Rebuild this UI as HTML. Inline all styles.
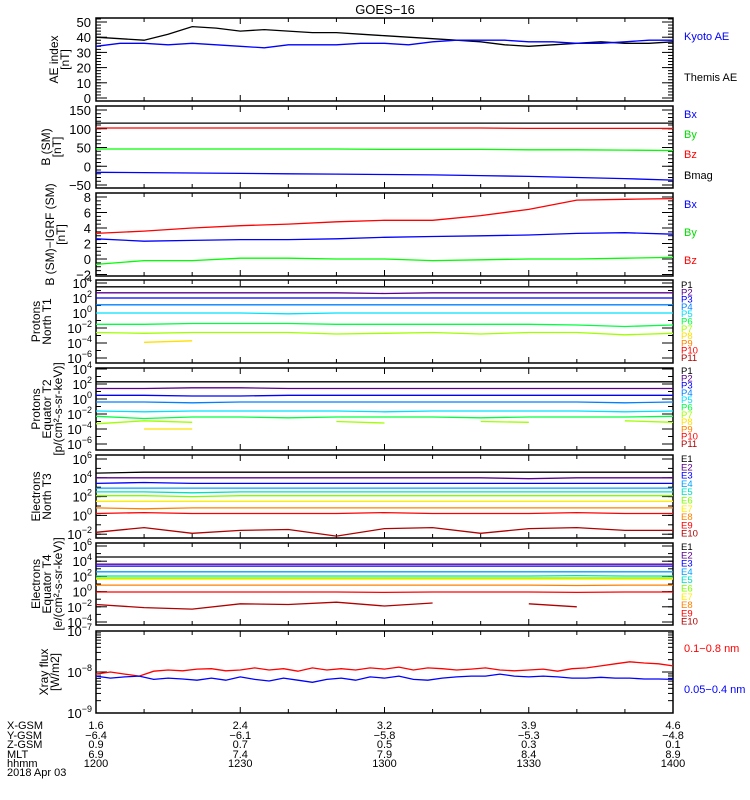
<!DOCTYPE html>
<html><head><meta charset="utf-8">
<style>
html,body{margin:0;padding:0;background:#fff;}
svg{display:block;font-family:"Liberation Sans",sans-serif;}
</style></head>
<body>
<svg id="chart" width="750" height="800" viewBox="0 0 750 800">
<text x="385" y="14" font-size="13" text-anchor="middle">GOES−16</text>
</svg>
<script>
// ---- data ----
const aeTimes = [0,5,10,15,20,25,30,35,40,45,50,55,60,65,70,75,80,85,90,95,100,105,110,115,120];
const themisAE = [40,39,38,42,47,46,44,45,44,43,43,42,41,40,39,38,37,35,34,35,36,37,36,36,37];
const kyotoAE  = [34,36,36,35,36,35,34,33,35,35,35,36,36,35,37,38,38,38,37,37,36,36,37,38,38];
const bTimes = [0,10,20,30,40,50,60,70,80,90,100,110,120];
const bMag = [115,115,115,115,115,115,115,115,115,115,115,115,115];
const bZ = [102,102,102,102,102,102,102,102,102,101,101,101,101];
const bY = [46,46,46,46,46,46,45,45,45,44,44,43,42];
const bX = [-16,-17,-18,-19,-20,-21,-22,-23,-25,-27,-30,-33,-37];
const dZ = [3.3,3.6,4.0,4.3,4.5,4.8,5.0,5.0,5.6,6.4,7.6,7.7,7.8];
const dX = [2.6,2.3,2.4,2.5,2.5,2.6,2.8,2.9,3.0,3.1,3.3,3.4,3.2];
const dY = [-0.7,-0.2,-0.2,0.1,0.1,0.0,0.0,-0.2,-0.1,0.0,0.0,0.1,0.2];
// protons north T1 (log10)
const pN1 = [3.5,3.5,3.5,3.5,3.5,3.5,3.5,3.5,3.5,3.5,3.5,3.5,3.5];
const pN2 = [2.7,2.7,2.7,2.7,2.7,2.7,2.6,2.7,2.7,2.7,2.7,2.7,2.7];
const pN3 = [2.0,2.0,2.0,2.0,2.0,2.0,2.0,2.0,2.0,2.0,2.0,2.0,2.0];
const pN4 = [1.1,1.1,1.1,1.1,1.1,1.1,1.1,1.1,1.1,1.1,1.1,1.1,1.1];
const pN5 = [0.0,0.0,0.0,0.0,-0.1,0.0,0.0,0.0,0.0,0.0,0.0,0.0,0.0];
const pN6 = [-1.5,-1.5,-1.4,-1.4,-1.4,-1.5,-1.5,-1.5,-1.5,-1.5,-1.6,-1.8,-1.6];
const pN7 = [-2.6,-2.7,-2.6,-2.6,-2.6,-2.8,-2.7,-2.6,-2.8,-2.6,-2.6,-2.9,-2.7];
const pN8 = [null,-3.9,-3.7,null,null,null,null,null,null,null,null,null,null];
// protons equator T2
const pE1 = [2.3,2.3,2.3,2.3,2.3,2.3,2.3,2.3,2.3,2.3,2.3,2.3,2.3];
const pE2 = [1.4,1.4,1.5,1.5,1.4,1.4,1.4,1.4,1.4,1.4,1.4,1.4,1.4];
const pE3 = [0.5,0.5,0.4,0.4,0.5,0.5,0.5,0.5,0.5,0.5,0.5,0.5,0.5];
const pE4 = [-0.4,-0.4,-0.5,-0.4,-0.4,-0.4,-0.4,-0.4,-0.4,-0.4,-0.4,-0.5,-0.4];
const pE5 = [-1.6,-1.7,-1.6,-1.6,-1.6,-1.6,-1.7,-1.6,-1.6,-1.6,-1.6,-1.7,-1.6];
const pE6 = [-2.3,-2.6,-2.4,-2.4,-2.5,-2.4,-2.4,-2.4,-2.5,-2.4,-2.4,-2.4,-2.3];
const pE7 = [-3.3,-2.9,-3.1,null,null,-3.0,-3.2,null,-3.0,-3.1,null,-2.9,-3.1];
const pE8 = [null,-4.0,-4.0,null,null,null,null,null,null,null,null,null,null];
// electrons north T3
const eN1 = [4.5,4.6,4.6,4.6,4.6,4.6,4.6,4.6,4.6,4.6,4.6,4.6,4.6];
const eN2 = [4.0,4.0,4.0,4.0,4.0,4.0,4.0,4.0,4.0,3.9,4.0,4.0,4.0];
const eN3 = [3.4,3.5,3.4,3.4,3.4,3.4,3.4,3.4,3.4,3.4,3.4,3.4,3.4];
const eN4 = [2.9,2.9,2.9,2.9,2.9,2.9,2.9,2.9,2.9,2.9,2.9,2.9,2.9];
const eN5 = [2.5,2.5,2.4,2.5,2.5,2.5,2.5,2.5,2.5,2.5,2.5,2.5,2.5];
const eN6 = [2.1,2.1,2.0,2.1,2.1,2.1,2.1,2.1,2.1,2.1,2.1,2.1,2.1];
const eN7 = [1.5,1.5,1.5,1.5,1.5,1.5,1.5,1.5,1.5,1.5,1.5,1.5,1.5];
const eN8 = [0.8,0.7,0.8,0.8,0.8,0.8,0.8,0.8,0.8,0.8,0.8,0.8,0.8];
const eN9 = [0.2,0.3,0.2,0.2,0.2,0.2,0.3,0.2,0.2,0.2,0.3,0.2,0.2];
const eN10 = [-1.8,-1.3,-1.9,-1.6,-1.5,-2.2,-1.4,-1.3,-1.9,-1.4,-1.3,-1.6,-1.6];
// electrons equator T4
const eE1 = [4.55,4.55,4.55,4.55,4.55,4.55,4.55,4.55,4.55,4.55,4.55,4.55,4.55];
const eE2 = [3.6,3.6,3.6,3.6,3.6,3.6,3.6,3.6,3.6,3.6,3.6,3.6,3.6];
const eE3 = [3.35,3.35,3.35,3.35,3.35,3.35,3.35,3.35,3.35,3.35,3.35,3.35,3.35];
const eE4 = [2.6,2.6,2.6,2.6,2.6,2.6,2.6,2.6,2.6,2.6,2.6,2.6,2.6];
const eE5 = [2.05,2.05,2.05,2.05,2.05,2.05,2.05,2.05,2.05,2.05,2.1,2.05,2.05];
const eE6 = [1.8,1.8,1.8,1.8,1.8,1.8,1.8,1.8,1.8,1.8,1.8,1.8,1.8];
const eE7 = [1.65,1.65,1.65,1.65,1.65,1.65,1.65,1.65,1.65,1.65,1.65,1.65,1.65];
const eE8 = [0.85,0.85,0.85,0.85,0.85,0.85,0.85,0.85,0.85,0.85,0.8,0.85,0.85];
const eE9 = [-0.05,-0.05,-0.05,-0.05,-0.05,-0.05,-0.1,-0.05,-0.05,-0.05,-0.1,-0.05,-0.05];
const eE10 = [-1.7,-2.1,-2.3,-1.6,-1.7,-1.4,-1.9,-1.5,null,-1.6,-2.0,null,-1.8];
// xray (log10 W/m2), every 3 min
const xTimes = [0,3,6,9,12,15,18,21,24,27,30,33,36,39,42,45,48,51,54,57,60,63,66,69,72,75,78,81,84,87,90,93,96,99,102,105,108,111,114,117,120];
const xrayLong = [-8.05,-8.0,-8.05,-8.1,-7.98,-7.95,-7.97,-7.93,-7.92,-7.97,-7.95,-7.9,-7.95,-7.92,-7.98,-7.9,-7.95,-7.92,-7.95,-7.9,-7.93,-7.88,-7.95,-7.9,-7.92,-7.95,-7.93,-7.9,-7.95,-7.97,-7.95,-7.93,-7.98,-7.92,-7.9,-7.85,-7.8,-7.75,-7.78,-7.8,-7.85];
const xrayShort = [-8.1,-8.15,-8.12,-8.1,-8.18,-8.15,-8.17,-8.2,-8.15,-8.2,-8.12,-8.18,-8.22,-8.15,-8.2,-8.25,-8.18,-8.15,-8.2,-8.12,-8.15,-8.1,-8.18,-8.2,-8.15,-8.12,-8.1,-8.1,-8.05,-8.1,-8.12,-8.1,-8.12,-8.15,-8.15,-8.13,-8.15,-8.15,-8.17,-8.17,-8.18];
const xTickLabels = ["1200","1230","1300","1330","1400"];
const xGsm = ["1.6","2.4","3.2","3.9","4.6"];
const yGsm = ["−6.4","−6.1","−5.8","−5.3","−4.8"];
const zGsm = ["0.9","0.7","0.5","0.3","0.1"];
const mlt = ["6.9","7.4","7.9","8.4","8.9"];

// ---- layout ----
const svg = document.getElementById('chart');
const NS = 'http://www.w3.org/2000/svg';
const X0 = 96, X1 = 673, TMAX = 120;
const xs = t => X0 + (X1 - X0) * t / TMAX;
function mk(tag, attrs, parent) {
  const e = document.createElementNS(NS, tag);
  for (const k in attrs) e.setAttribute(k, attrs[k]);
  (parent || svg).appendChild(e);
  return e;
}
function txt(x, y, s, size, color, anchor, parent) {
  const t = mk('text', {x: x, y: y, 'font-size': size, fill: color || '#000', 'text-anchor': anchor || 'start'}, parent);
  t.textContent = s;
  return t;
}
function series(g, times, vals, yf, color, name) {
  let d = '', pen = false;
  for (let i = 0; i < vals.length; i++) {
    if (vals[i] === null) { pen = false; continue; }
    const x = xs(times[i]), y = yf(vals[i]);
    d += (pen ? 'L' : 'M') + x.toFixed(1) + ' ' + y.toFixed(1);
    pen = true;
  }
  const p = mk('path', {d: d, fill: 'none', stroke: color, 'stroke-width': 1.3}, g);
  
  
  return p;
}
function panel(name, top, bot, yf, majors, labelFn, minors, ytitle, titleX) {
  const g = mk('g', {});
  
  
  const fr = mk('rect', {x: X0, y: top, width: X1 - X0, height: bot - top, fill: 'none', stroke: '#000', 'stroke-width': 1.5}, g);
  
  
  for (let t = 10; t < TMAX; t += 10) {
    const L = (t % 30 === 0) ? 6 : 4;
    mk('line', {x1: xs(t), x2: xs(t), y1: bot, y2: bot - L, stroke: '#000'}, g);
    mk('line', {x1: xs(t), x2: xs(t), y1: top, y2: top + L, stroke: '#000'}, g);
  }
  minors.forEach(v => {
    const y = yf(v);
    if (y < top || y > bot) return;
    mk('line', {x1: X0, x2: X0 + 5, y1: y, y2: y, stroke: '#000'}, g);
    mk('line', {x1: X1, x2: X1 - 5, y1: y, y2: y, stroke: '#000'}, g);
  });
  majors.forEach(v => {
    const y = yf(v);
    mk('line', {x1: X0, x2: X0 + 11, y1: y, y2: y, stroke: '#000'}, g);
    mk('line', {x1: X1, x2: X1 - 11, y1: y, y2: y, stroke: '#000'}, g);
    labelFn(v, y, g);
  });
  const cy = (top + bot) / 2;
  ytitle.forEach((s, i) => {
    const x = titleX + i * 11;
    const t = txt(x, cy, s, 12, '#000', 'middle', g);
    t.setAttribute('transform', 'rotate(-90 ' + x + ' ' + cy + ')');
    
    
  });
  return g;
}
const linLabel = (v, y, g) => txt(X0 - 5, y + 5, (v < 0 ? '−' + (-v) : '' + v), 13, '#000', 'end', g);
function logLabel(v, y, g) {
  const t = mk('text', {x: X0 - 4, y: y + 5, 'font-size': 13, 'text-anchor': 'end'}, g);
  const a = document.createElementNS(NS, 'tspan'); a.textContent = '10'; t.appendChild(a);
  const b = document.createElementNS(NS, 'tspan');
  b.setAttribute('dy', -6); b.setAttribute('font-size', 9);
  b.textContent = (v < 0 ? '−' + (-v) : '' + v); t.appendChild(b);
  
  
}
function logMinors(lo, hi) { const a = []; for (let d = lo; d <= hi; d++) a.push(d); return a; }
function rlabel(g, x, y, s, c, name, size) {
  const t = txt(x, y, s, size || 11, c, 'start', g);
  
  
}

// Panel 1: AE
const yAE = v => 98 - v * 1.52;
const aeMin = []; for (let v = 0; v <= 52; v += 2) aeMin.push(v);
let g = panel('ae-panel', 18, 101, yAE, [0,10,20,30,40,50], linLabel, aeMin, ['AE index', '[nT]'], 58);
series(g, aeTimes, themisAE, yAE, '#000', 'themis-ae-line');
series(g, aeTimes, kyotoAE, yAE, '#0000ff', 'kyoto-ae-line');
rlabel(g, 684, 40, 'Kyoto AE', '#0000ff', 'legend-kyoto-ae');
rlabel(g, 684, 81, 'Themis AE', '#000', 'legend-themis-ae');

// Panel 2: B
const yB = v => 110 + (150 - v) * 0.375;
const bMin = []; for (let v = -50; v <= 150; v += 10) bMin.push(v);
g = panel('b-sm-panel', 106, 188, yB, [-50,0,50,100,150], linLabel, bMin, ['B (SM)', '[nT]'], 50);
series(g, bTimes, bMag, yB, '#000', 'bmag-line');
series(g, bTimes, bZ, yB, '#ff0000', 'bz-line');
series(g, bTimes, bY, yB, '#00ff00', 'by-line');
series(g, bTimes, bX, yB, '#0000ff', 'bx-line');
rlabel(g, 684, 118, 'Bx', '#0000ff', 'legend-bx');
rlabel(g, 684, 138, 'By', '#00dd00', 'legend-by');
rlabel(g, 684, 158, 'Bz', '#ff0000', 'legend-bz');
rlabel(g, 684, 179, 'Bmag', '#000', 'legend-bmag');

// Panel 3: B - IGRF
const yD = v => 259 - v * 7.75;
const dMin = []; for (let v = -2; v <= 8; v += 0.5) dMin.push(v);
g = panel('b-igrf-panel', 193, 276, yD, [-2,0,2,4,6,8], linLabel, dMin, ['B (SM)−IGRF (SM)', '[nT]'], 54);
series(g, bTimes, dZ, yD, '#ff0000', 'dbz-line');
series(g, bTimes, dX, yD, '#0000ff', 'dbx-line');
series(g, bTimes, dY, yD, '#00ff00', 'dby-line');
rlabel(g, 684, 208, 'Bx', '#0000ff', 'legend-dbx');
rlabel(g, 684, 236, 'By', '#00dd00', 'legend-dby');
rlabel(g, 684, 264, 'Bz', '#ff0000', 'legend-dbz');

const pColors = ['#000000','#5a0090','#0000ff','#0080ff','#00e0ff','#00ff40','#a0ff00','#ffe000','#ff8000','#ff0000','#b00000'];
const eColors = ['#000000','#5a0090','#0000ff','#00a0ff','#00e0c0','#80ff00','#ffee00','#ff8000','#ff0000','#b00000'];

// Panel 4: Protons North T1
const yPN = v => 283 + (4 - v) * 7.5;
g = panel('protons-north-panel', 280, 363, yPN, [4,2,0,-2,-4,-6], logLabel, logMinors(-6,4), ['Protons', 'North T1'], 40);
[pN1,pN2,pN3,pN4,pN5,pN6,pN7,pN8].forEach((a, i) => series(g, bTimes, a, yPN, pColors[i], 'proton-north-p' + (i + 1)));
for (let i = 0; i < 11; i++) rlabel(g, 681, 288 + i * 7.3, 'P' + (i + 1), pColors[i], 'legend-proton-north-p' + (i + 1), 9.5);

// Panel 5: Protons Equator T2
const yPE = v => 369 + (4 - v) * 7.5;
g = panel('protons-equator-panel', 368, 450, yPE, [4,2,0,-2,-4,-6], logLabel, logMinors(-6,4), ['Protons', 'Equator T2', '[p/(cm²-s-sr-keV)]'], 40);
[pE1,pE2,pE3,pE4,pE5,pE6,pE7,pE8].forEach((a, i) => series(g, bTimes, a, yPE, pColors[i], 'proton-equator-p' + (i + 1)));
for (let i = 0; i < 11; i++) rlabel(g, 681, 374 + i * 7.3, 'P' + (i + 1), pColors[i], 'legend-proton-equator-p' + (i + 1), 9.5);

// Panel 6: Electrons North T3
const yEN = v => 459 + (6 - v) * 9.4;
g = panel('electrons-north-panel', 455, 538, yEN, [6,4,2,0,-2], logLabel, logMinors(-2,6), ['Electrons', 'North T3'], 40);
[eN1,eN2,eN3,eN4,eN5,eN6,eN7,eN8,eN9,eN10].forEach((a, i) => series(g, bTimes, a, yEN, eColors[i], 'electron-north-e' + (i + 1)));
for (let i = 0; i < 10; i++) rlabel(g, 681, 462 + i * 8.3, 'E' + (i + 1), eColors[i], 'legend-electron-north-e' + (i + 1), 9.5);

// Panel 7: Electrons Equator T4
const yEE = v => 546 + (6 - v) * 7.6;
g = panel('electrons-equator-panel', 543, 625, yEE, [6,4,2,0,-2,-4], logLabel, logMinors(-4,6), ['Electrons', 'Equator T4', '[e/(cm²-s-sr-keV)]'], 40);
[eE1,eE2,eE3,eE4,eE5,eE6,eE7,eE8,eE9,eE10].forEach((a, i) => series(g, bTimes, a, yEE, eColors[i], 'electron-equator-e' + (i + 1)));
for (let i = 0; i < 10; i++) rlabel(g, 681, 550 + i * 8.3, 'E' + (i + 1), eColors[i], 'legend-electron-equator-e' + (i + 1), 9.5);

// Panel 8: Xray
const yX = v => 631 + (-7 - v) * 41;
const xMin = []; for (let d = -9; d < -7; d++) for (let m = 2; m <= 9; m++) xMin.push(d + Math.log10(m));
g = panel('xray-panel', 631, 713, yX, [-7,-8,-9], logLabel, xMin, ['Xray  flux', '[W/m2]'], 48);
series(g, xTimes, xrayLong, yX, '#ff0000', 'xray-long-line');
series(g, xTimes, xrayShort, yX, '#0000ff', 'xray-short-line');
rlabel(g, 684, 652, '0.1−0.8 nm', '#ff0000', 'legend-xray-long');
rlabel(g, 684, 693, '0.05−0.4 nm', '#0000ff', 'legend-xray-short');

// bottom annotation rows
const rows = [['X-GSM', xGsm, 729], ['Y-GSM', yGsm, 739], ['Z-GSM', zGsm, 748], ['MLT', mlt, 758], ['hhmm', xTickLabels, 767]];
const ga = mk('g', {});


rows.forEach(r => {
  const lab = txt(7, r[2], r[0], 11, '#000', 'start', ga);
  
  
  r[1].forEach((s, i) => {
    const t = txt(xs(i * 30), r[2], s, 11, '#000', 'middle', ga);
    
    
  });
});
const dl = txt(7, 776, '2018 Apr 03', 11, '#000', 'start', ga);


</script>
</body></html>
